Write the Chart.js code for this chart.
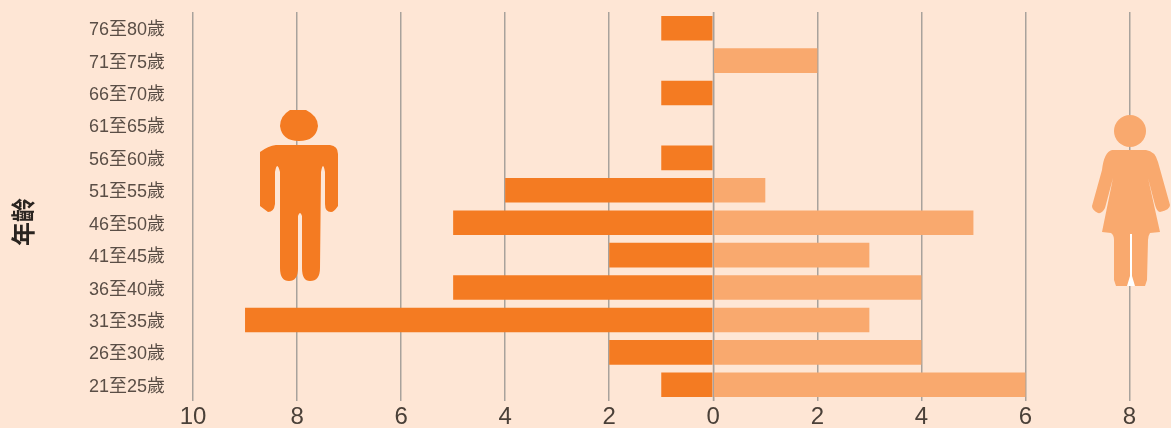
<!DOCTYPE html>
<html lang="zh-Hant">
<head>
<meta charset="utf-8">
<style>
  html, body { margin: 0; padding: 0; background: #FEE6D5; }
  #wrap { width: 1171px; height: 428px; }
</style>
</head>
<body>
<div id="wrap"><canvas id="chart"></canvas></div>
<script src="https://cdn.jsdelivr.net/npm/chart.js@4"></script>
<script>
const AGES = ['76至80歲', '71至75歲', '66至70歲', '61至65歲', '56至60歲', '51至55歲',
  '46至50歲', '41至45歲', '36至40歲', '31至35歲', '26至30歲', '21至25歲'];
const MALE = [1, 0, 1, 0, 1, 4, 5, 2, 5, 9, 2, 1];
const FEMALE = [0, 2, 0, 0, 0, 1, 5, 3, 4, 3, 4, 6];
const AXIS_TITLE = '年齡';

const MALE_COLOR = '#F47B22';
const FEMALE_COLOR = '#F9A96E';
const GRID_COLOR = '#A8A29C';
const FONT = '"Liberation Sans", "Noto Sans CJK TC", sans-serif';

// 남녀 아이콘 — 막대 위에 그리는 장식
function drawMan(ctx) {
  ctx.fillStyle = MALE_COLOR;
  ctx.beginPath();
  ctx.moveTo(290, 110);
  ctx.lineTo(306, 110);
  ctx.quadraticCurveTo(318, 116, 318, 126);
  ctx.quadraticCurveTo(316, 141, 299, 141);
  ctx.quadraticCurveTo(282, 141, 280, 126);
  ctx.quadraticCurveTo(280, 116, 290, 110);
  ctx.fill();
  ctx.beginPath();
  ctx.moveTo(260, 152);
  ctx.quadraticCurveTo(268, 146, 276, 145);
  ctx.lineTo(330, 145);
  ctx.quadraticCurveTo(338, 146, 338, 154);
  ctx.lineTo(338, 206);
  ctx.quadraticCurveTo(334, 212, 331, 212);
  ctx.quadraticCurveTo(325, 212, 325, 204);
  ctx.lineTo(325, 172);
  ctx.quadraticCurveTo(323, 160, 321, 172);
  ctx.lineTo(320, 268);
  ctx.quadraticCurveTo(320, 281, 310, 281);
  ctx.quadraticCurveTo(302, 281, 302, 268);
  ctx.lineTo(302, 216);
  ctx.quadraticCurveTo(300, 210, 298, 216);
  ctx.lineTo(298, 268);
  ctx.quadraticCurveTo(298, 281, 289, 281);
  ctx.quadraticCurveTo(280, 281, 280, 268);
  ctx.lineTo(280, 172);
  ctx.quadraticCurveTo(277, 160, 275, 172);
  ctx.lineTo(275, 204);
  ctx.quadraticCurveTo(274, 212, 268, 212);
  ctx.lineTo(260, 206);
  ctx.closePath();
  ctx.fill();
}

function drawWoman(ctx) {
  ctx.fillStyle = FEMALE_COLOR;
  ctx.beginPath();
  ctx.arc(1130, 131, 16, 0, Math.PI * 2);
  ctx.fill();
  ctx.beginPath();
  ctx.moveTo(1112, 150);
  ctx.lineTo(1146, 150);
  ctx.quadraticCurveTo(1155, 151, 1158, 162);
  ctx.lineTo(1170, 205);
  ctx.quadraticCurveTo(1170, 210, 1160, 212);
  ctx.quadraticCurveTo(1157, 212, 1155, 205);
  ctx.lineTo(1148, 178);
  ctx.lineTo(1160, 232);
  ctx.lineTo(1150, 233);
  ctx.quadraticCurveTo(1148, 236, 1148, 240);
  ctx.lineTo(1147, 280);
  ctx.lineTo(1145, 286);
  ctx.lineTo(1116, 286);
  ctx.lineTo(1114, 280);
  ctx.lineTo(1114, 240);
  ctx.quadraticCurveTo(1114, 235, 1111, 233);
  ctx.lineTo(1102, 232);
  ctx.lineTo(1113, 178);
  ctx.lineTo(1105, 208);
  ctx.quadraticCurveTo(1102, 214, 1098, 213);
  ctx.quadraticCurveTo(1092, 210, 1092, 206);
  ctx.lineTo(1102, 170);
  ctx.quadraticCurveTo(1104, 152, 1112, 150);
  ctx.closePath();
  ctx.fill();
  // 다리 사이 흰 틈
  ctx.fillStyle = '#FFFFFF';
  ctx.beginPath();
  ctx.moveTo(1130, 234);
  ctx.lineTo(1132, 234);
  ctx.lineTo(1132, 276);
  ctx.lineTo(1135, 286);
  ctx.lineTo(1127, 286);
  ctx.lineTo(1130, 276);
  ctx.closePath();
  ctx.fill();
}

const figures = {
  id: 'figures',
  afterDatasetsDraw(chart) {
    const { ctx, chartArea, scales } = chart;
    ctx.save();
    // 0 기준선은 막대 위로
    const zero = scales.x.getPixelForValue(0);
    ctx.strokeStyle = GRID_COLOR;
    ctx.lineWidth = 1;
    ctx.beginPath();
    ctx.moveTo(zero, chartArea.top);
    ctx.lineTo(zero, chartArea.bottom);
    ctx.stroke();

    drawMan(ctx);
    drawWoman(ctx);

    ctx.translate(25, 222);
    ctx.rotate(-Math.PI / 2);
    ctx.fillStyle = '#2A2420';
    ctx.font = `bold 24px ${FONT}`;
    ctx.textAlign = 'center';
    ctx.textBaseline = 'middle';
    ctx.fillText(AXIS_TITLE, 0, 0);
    ctx.restore();
  },
};

new Chart(document.getElementById('chart'), {
  type: 'bar',
  data: {
    labels: AGES,
    datasets: [
      { label: '男', data: MALE.map((v) => -v), backgroundColor: MALE_COLOR },
      { label: '女', data: FEMALE, backgroundColor: FEMALE_COLOR },
    ],
  },
  options: {
    indexAxis: 'y',
    responsive: true,
    maintainAspectRatio: false,
    animation: false,
    layout: { padding: { top: 12, right: 41.5, left: 0, bottom: 0 } },
    datasets: { bar: { barPercentage: 0.76, categoryPercentage: 1 } },
    plugins: { legend: { display: false }, tooltip: { enabled: false } },
    scales: {
      x: {
        stacked: true,
        min: -10,
        max: 8,
        ticks: {
          stepSize: 2,
          maxRotation: 0,
          padding: 2,
          color: '#4A4038',
          font: { family: FONT, size: 24 },
          callback: (v) => Math.abs(v),
        },
        grid: { color: GRID_COLOR, lineWidth: 1.5, drawTicks: false },
        border: { display: false },
        afterFit: (s) => { s.height = 27; },
      },
      y: {
        stacked: true,
        ticks: {
          padding: 0,
          labelOffset: 2,
          color: '#5A4E46',
          font: { family: FONT, size: 18 },
          autoSkip: false,
        },
        // tickLength로 라벨 간격 확보 (ticks.padding은 위아래 여백까지 늘림)
        grid: { display: false, drawTicks: true, tickLength: 28 },
        border: { display: false },
        afterFit: (s) => { s.width = 193; },
      },
    },
  },
  plugins: [figures],
});
</script>
</body>
</html>
